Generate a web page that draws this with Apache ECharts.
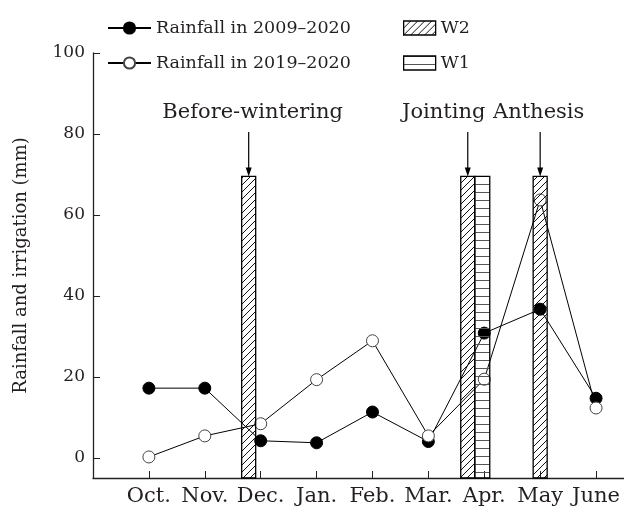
<!DOCTYPE html>
<html>
<head>
<meta charset="utf-8">
<script src="https://cdn.jsdelivr.net/npm/echarts@6/dist/echarts.min.js"></script>
<style>
html,body{margin:0;padding:0;background:#fff;}
#chart{width:624px;height:507px;}
</style>
</head>
<body>
<div id="chart"></div>
<script>
// ---------------- DATA ----------------
const months = ['Oct.', 'Nov.', 'Dec.', 'Jan.', 'Feb.', 'Mar.', 'Apr.', 'May', 'June'];
const rain2009_2020 = [17.2, 17.2, 4.2, 3.7, 11.3, 4.0, 30.8, 36.7, 14.7];
const rain2019_2020 = [0.2, 5.4, 8.4, 19.3, 28.9, 5.4, 19.4, 63.7, 12.3];
const w2Months = ['Dec.', 'Apr.', 'May'];
const w2Values = [69.5, 69.5, 69.5];
const w1Months = ['Apr.'];
const w1Values = [69.5];
const stageNames = ['Before-wintering', 'Jointing', 'Anthesis'];
const stageMonths = ['Dec.', 'Apr.', 'May'];
const yTicks = [0, 20, 40, 60, 80, 100];
const yMin = -5, yMax = 100;

// ---------------- STYLE ----------------
const FONT = 'DejaVu Serif';
const TXT = '#231f20';
const w2OffsetPx = {'Dec.': -12, 'Apr.': -16.5, 'May': 0};
const w1OffsetPx = {'Apr.': -2};
const w2Width = 14, w1Width = 15;
const stageTextOffsetPx = {'Before-wintering': 4, 'Jointing': -24, 'Anthesis': -1.5};
const stageTextValue = 85.3, arrowTopValue = 80.5;

function makeDiag() {
  const c = document.createElement('canvas');
  c.width = 7; c.height = 7;
  const g = c.getContext('2d');
  g.strokeStyle = '#111'; g.lineWidth = 1;
  g.beginPath();
  g.moveTo(0, 7); g.lineTo(7, 0);
  g.moveTo(-1, 1); g.lineTo(1, -1);
  g.moveTo(6, 8); g.lineTo(8, 6);
  g.stroke();
  return {image: c, repeat: 'repeat'};
}
function makeHoriz() {
  const c = document.createElement('canvas');
  c.width = 8; c.height = 8;
  const g = c.getContext('2d');
  g.strokeStyle = '#555'; g.lineWidth = 1;
  g.beginPath(); g.moveTo(0, 0.5); g.lineTo(8, 0.5); g.stroke();
  return {image: c, repeat: 'repeat'};
}
const diagPat = makeDiag();
const horizPat = makeHoriz();

const idx = m => months.indexOf(m);

function barRenderer(offsets, width, pattern) {
  return function (params, api) {
    const m = months[api.value(0)];
    const pTop = api.coord([api.value(0), api.value(1)]);
    const pBot = api.coord([api.value(0), yMin]);
    const cx = pTop[0] + (offsets[m] || 0);
    return {
      type: 'rect',
      shape: {x: cx - width / 2, y: pTop[1], width: width, height: pBot[1] - pTop[1]},
      style: {fill: pattern, stroke: '#000', lineWidth: 1.3}
    };
  };
}

function stageRenderer(params, api) {
  const i = params.dataIndex;
  const name = stageNames[i];
  const m = stageMonths[i];
  const x0 = api.value(0);
  const pText = api.coord([x0, stageTextValue]);
  const pA = api.coord([x0, arrowTopValue]);
  const pB = api.coord([x0, w2Values[w2Months.indexOf(m)]]);
  const ax = pA[0] + (w2OffsetPx[m] || 0);
  return {
    type: 'group',
    children: [
      {type: 'text', style: {text: name, x: ax + stageTextOffsetPx[name], y: pText[1],
        align: 'center', verticalAlign: 'middle', font: '21px "' + FONT + '"', fill: TXT}},
      {type: 'line', shape: {x1: ax, y1: pA[1], x2: ax, y2: pB[1] - 7},
        style: {stroke: '#000', lineWidth: 1.2}},
      {type: 'polygon', shape: {points: [[ax - 3, pB[1] - 9], [ax + 3, pB[1] - 9], [ax, pB[1]]]},
        style: {fill: '#000'}}
    ]
  };
}

const chart = echarts.init(document.getElementById('chart'), null, {renderer: 'canvas'});
chart.setOption({
  animation: false,
  backgroundColor: '#fff',
  textStyle: {fontFamily: FONT, color: TXT},
  grid: {left: 93, right: 0, top: 53, bottom: 29, containLabel: false, outerBoundsMode: 'none'},
  legend: [
    {
      orient: 'vertical', left: 107, top: 18, padding: 0, itemWidth: 43, itemHeight: 14, itemGap: 15,
      textStyle: {fontFamily: FONT, fontSize: 17.5, color: TXT, lineHeight: 20},
      data: ['Rainfall in 2009–2020', 'Rainfall in 2019–2020']
    },
    {
      orient: 'vertical', left: 403, top: 18, padding: 0, itemWidth: 32, itemHeight: 14, itemGap: 15,
      textStyle: {fontFamily: FONT, fontSize: 17.5, color: TXT, lineHeight: 20},
      data: [
        {name: 'W2', icon: 'rect', itemStyle: {color: diagPat, borderColor: '#000', borderWidth: 1.3}},
        {name: 'W1', icon: 'rect', itemStyle: {color: horizPat, borderColor: '#000', borderWidth: 1.3}}
      ]
    }
  ],
  xAxis: {
    type: 'value', min: -1, max: 8.5,
    axisLine: {onZero: false, lineStyle: {color: '#222', width: 1.3}},
    axisTick: {inside: true, length: 7, customValues: months.map((m, i) => i), lineStyle: {color: '#222'}},
    axisLabel: {customValues: months.map((m, i) => i), formatter: v => months[v] || '',
      fontFamily: FONT, fontSize: 21, color: TXT, margin: 8},
    splitLine: {show: false}
  },
  yAxis: {
    type: 'value', min: yMin, max: yMax,
    name: 'Rainfall and irrigation (mm)', nameLocation: 'middle', nameGap: 63,
    nameTextStyle: {fontFamily: FONT, fontSize: 18, color: TXT},
    axisLine: {show: true, onZero: false, lineStyle: {color: '#222', width: 1.3}},
    axisTick: {show: true, inside: true, length: 7, customValues: yTicks, lineStyle: {color: '#222'}},
    axisLabel: {customValues: yTicks, fontFamily: FONT, fontSize: 17, color: TXT, margin: 8},
    splitLine: {show: false}
  },
  series: [
    {
      name: 'Rainfall in 2009–2020', type: 'line', z: 3,
      data: rain2009_2020.map((v, i) => [i, v]),
      symbol: 'circle', symbolSize: 12,
      lineStyle: {color: '#000', width: 1},
      itemStyle: {color: '#000', borderColor: '#000', borderWidth: 1}
    },
    {
      name: 'Rainfall in 2019–2020', type: 'line', z: 3,
      data: rain2019_2020.map((v, i) => [i, v]),
      symbol: 'circle', symbolSize: 12,
      lineStyle: {color: '#000', width: 1},
      itemStyle: {color: '#fff', borderColor: '#444', borderWidth: 1}
    },
    {
      name: 'W2', type: 'custom', z: 4,
      renderItem: barRenderer(w2OffsetPx, w2Width, diagPat),
      itemStyle: {color: '#fff'},
      data: w2Months.map((m, i) => [idx(m), w2Values[i]])
    },
    {
      name: 'W1', type: 'custom', z: 4,
      renderItem: barRenderer(w1OffsetPx, w1Width, horizPat),
      itemStyle: {color: '#fff'},
      data: w1Months.map((m, i) => [idx(m), w1Values[i]])
    },
    {
      name: 'stages', type: 'custom', z: 5, silent: true,
      renderItem: stageRenderer,
      data: stageMonths.map(m => [idx(m), stageTextValue])
    }
  ]
});
</script>
</body>
</html>
